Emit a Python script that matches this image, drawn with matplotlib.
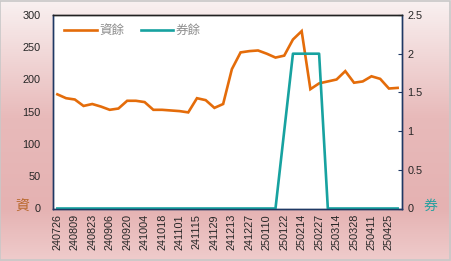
import matplotlib.pyplot as plt
import numpy as np
from matplotlib.colors import LinearSegmentedColormap
from matplotlib.ticker import FuncFormatter

plt.rcParams["font.family"] = ["Liberation Sans", "Noto Sans CJK TC"]

dates = [
    "240726", "240802", "240809", "240816", "240823", "240830", "240906", "240913",
    "240920", "240927", "241004", "241011", "241018", "241025", "241101", "241108",
    "241115", "241122", "241129", "241206", "241213", "241220", "241227", "250103",
    "250110", "250117", "250122", "250207", "250214", "250221", "250227", "250307",
    "250314", "250321", "250328", "250403", "250411", "250418", "250425", "250502",
]
margin_bal = [
    177, 171, 169, 159, 162, 158, 153, 155, 167, 167,
    165, 153, 153, 152, 151, 149, 171, 168, 156, 162,
    216, 242, 244, 245, 240, 234, 237, 262, 275, 185,
    194, 197, 200, 213, 195, 197, 205, 201, 186, 187,
]
short_bal = [0] * 26 + [1, 2, 2, 2, 2] + [0] * 9

orange = "#e46c0a"
teal = "#17a2a0"
navy = "#1f3864"

fig = plt.figure(figsize=(4.51, 2.61), dpi=100)

# background gradient
bg = fig.add_axes([0, 0, 1, 1], zorder=-10)
cmap = LinearSegmentedColormap.from_list(
    "bg", [(0, "#f9f1f1"), (0.45, "#e8baba"), (0.8, "#e5b2b2"), (1, "#efcccc")]
)
bg.imshow(np.linspace(0, 1, 256).reshape(-1, 1), aspect="auto", cmap=cmap,
          extent=[0, 1, 0, 1], origin="upper")
bg.add_patch(plt.Rectangle((0.001, 0.002), 0.997, 0.995, fill=False,
                           edgecolor="#c8c8c8", lw=1.2, transform=bg.transAxes))
bg.set_xlim(0, 1)
bg.set_ylim(0, 1)
bg.axis("off")

ax = fig.add_axes([53 / 451, 52.5 / 261, 349 / 451, 193.5 / 261])
ax.set_facecolor("white")
x = np.arange(len(dates))
ax.plot(x, margin_bal, color=orange, lw=1.9, label="資餘", solid_joinstyle="miter")
ax.set_xlim(-0.5, len(dates) - 0.5)
ax.set_ylim(0, 300)
ax.set_yticks(range(0, 301, 50))
ax.set_xticks(x[::2])
ax.set_xticklabels(dates[::2], rotation=90)
ax.tick_params(axis="x", length=0, labelsize=7.8, labelcolor="#262626", pad=4)
ax.tick_params(axis="y", length=0, labelsize=7.8, labelcolor="#262626", pad=9)

ax2 = ax.twinx()
ax2.plot(x, short_bal, color=teal, lw=1.9, label="券餘")
ax2.set_ylim(0, 2.5)
ax2.set_yticks(np.arange(0, 2.51, 0.5))
ax2.yaxis.set_major_formatter(FuncFormatter(lambda v, p: f"{v:g}"))
ax2.tick_params(axis="y", direction="in", length=3, color=navy, labelsize=7.8,
                labelcolor="#262626", pad=4)

for a in (ax, ax2):
    a.spines["left"].set_color(navy)
    a.spines["right"].set_color(navy)
    a.spines["bottom"].set_color(navy)
    a.spines["top"].set_color("#222222")
    for s in a.spines.values():
        s.set_linewidth(1.0)

h1, l1 = ax.get_legend_handles_labels()
h2, l2 = ax2.get_legend_handles_labels()
leg = ax2.legend(h1 + h2, l1 + l2, loc="upper left", ncol=2, frameon=False,
                 handlelength=2.6, handletextpad=0.2, columnspacing=1.3,
                 bbox_to_anchor=(0.0, 1.01),
                 prop={"family": ["Noto Sans CJK TC"], "size": 9})
for t in leg.get_texts():
    t.set_color("#8c8c8c")

fig.text(22 / 451, 1 - 207 / 261, "資", color="#b8672a", fontsize=10,
         family=["Noto Sans CJK TC"], ha="center", va="center")
fig.text(430 / 451, 1 - 206 / 261, "券", color="#2aa0a0", fontsize=10,
         family=["Noto Sans CJK TC"], ha="center", va="center")

fig.savefig("out.png", dpi=100)
